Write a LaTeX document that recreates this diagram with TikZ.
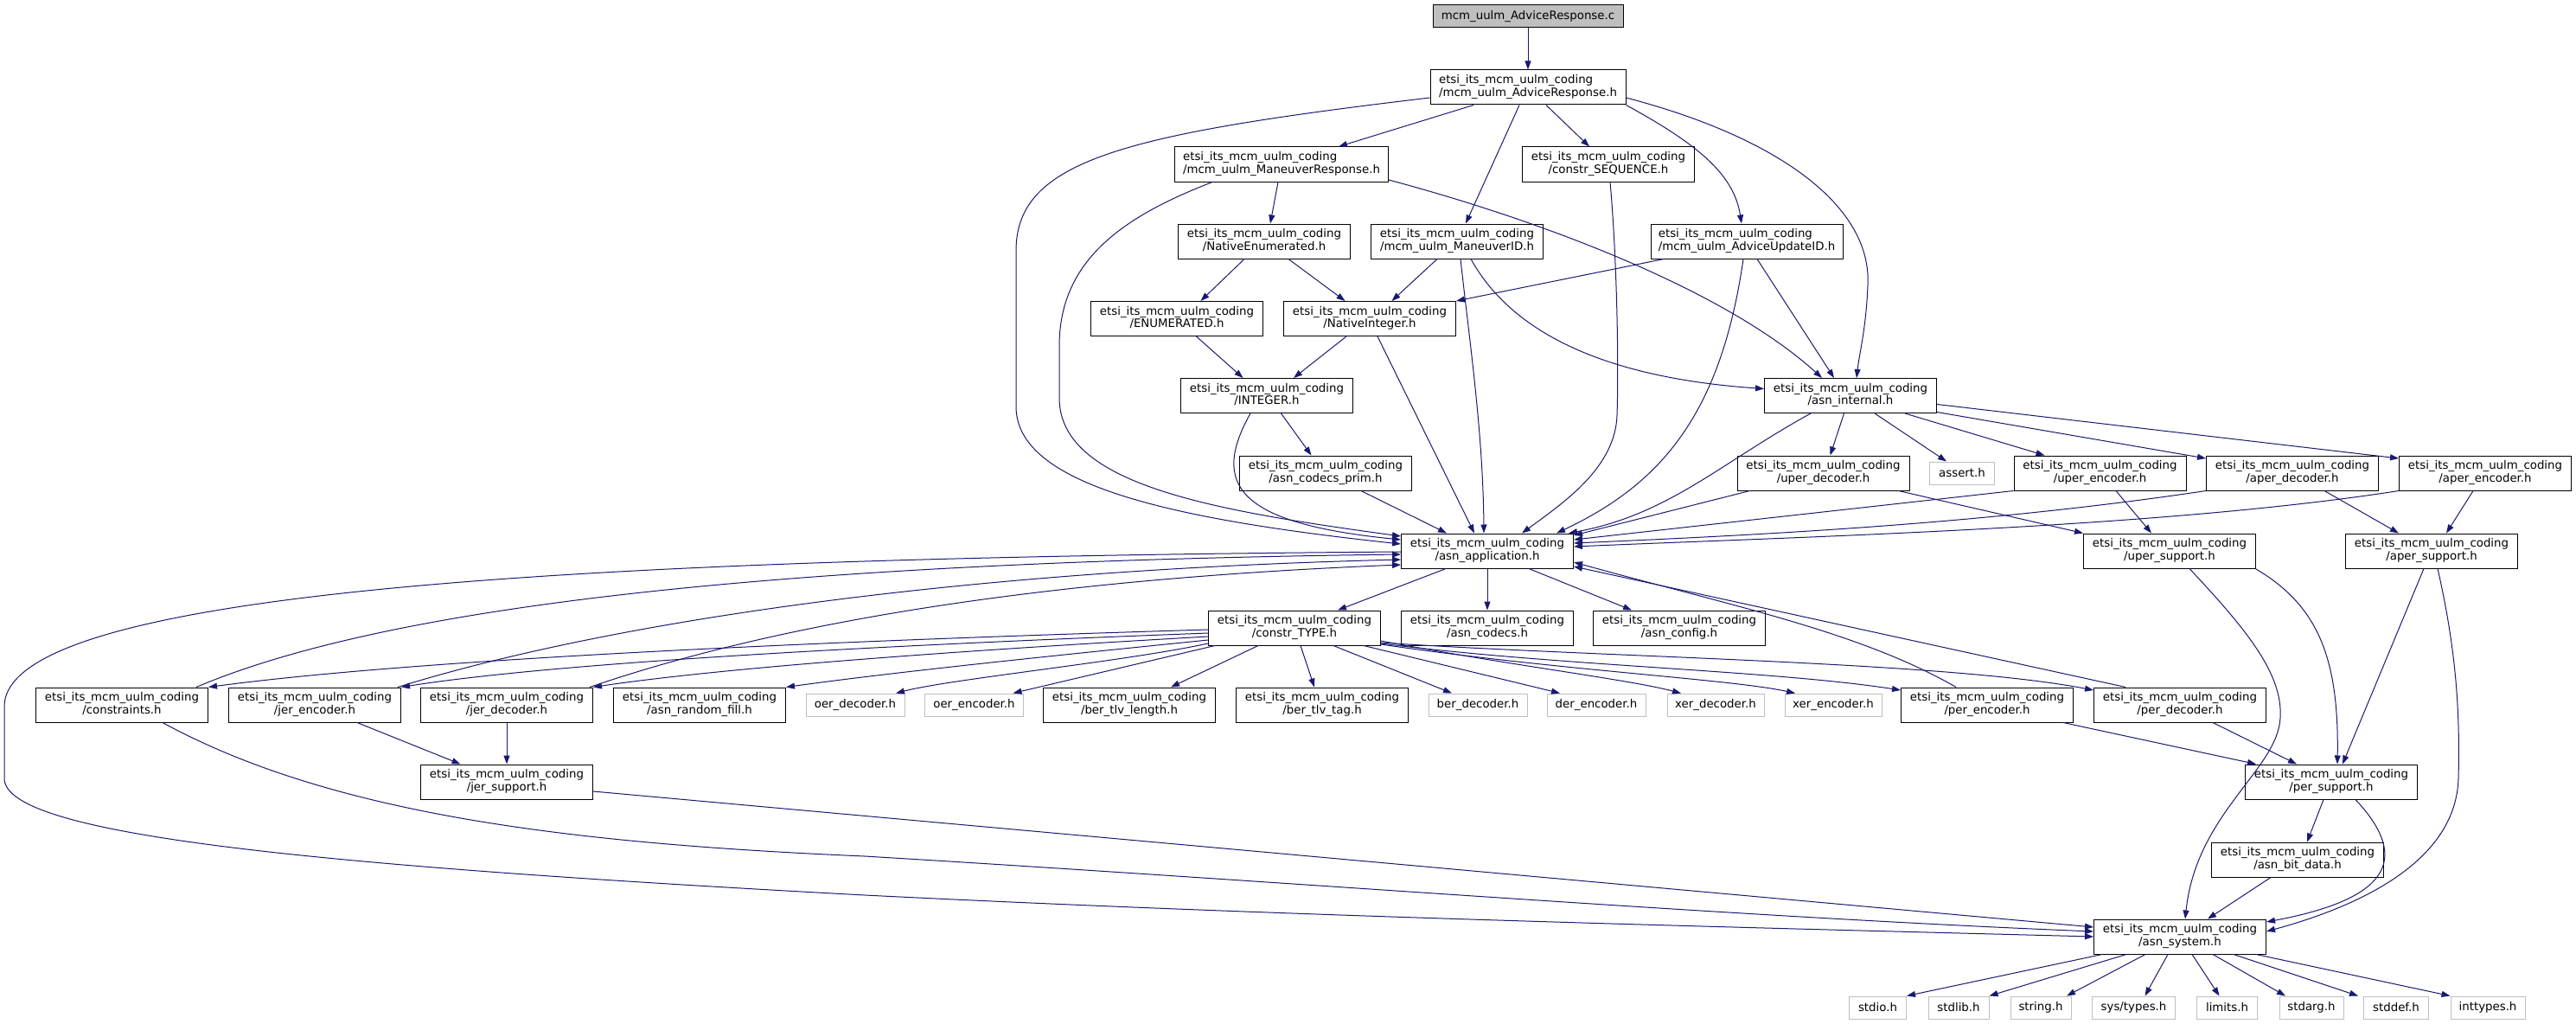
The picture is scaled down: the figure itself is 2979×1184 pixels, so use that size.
\documentclass[tikz,border=0pt]{standalone}
\usepackage{fontspec}
\setmainfont{DejaVu Sans}
\usetikzlibrary{arrows.meta,calc}
\definecolor{edgec}{HTML}{191970}
\definecolor{greyl}{HTML}{BFBFBF}
\newcommand\dlab[1]{\begin{tabular}{@{}c@{}}\multicolumn{1}{@{}l@{}}{etsi\_its\_mcm\_uulm\_coding}\\#1\end{tabular}}
\tikzset{
  hbox/.style={draw=black, fill=white, line width=0.75pt, inner sep=0pt, minimum height=30pt, font=\fontsize{10}{10.5}\selectfont},
  sbox/.style={draw=greyl, fill=white, line width=0.75pt, inner sep=0pt, minimum height=19.5pt, font=\fontsize{10}{10.5}\selectfont},
  topbox/.style={hbox, fill=greyl, minimum height=19.5pt},
  bw/.style={minimum width=#1*0.75pt},
  dep/.style={draw=edgec, line width=0.75pt, -{Triangle[length=7.5pt,width=5.25pt]}},
}
\begin{document}
\begin{tikzpicture}[x=0.75pt,y=-0.75pt]
\useasboundingbox (0,0) rectangle (2979,1184);
% nodes
\node[topbox,bw=220] (src) at (1767,19) {mcm\_uulm\_AdviceResponse.c};
\node[hbox,bw=226] (adv) at (1767,101) {\dlab{/mcm\_uulm\_AdviceResponse.h}};
\node[hbox,bw=247] (mresp) at (1482,190) {\dlab{/mcm\_uulm\_ManeuverResponse.h}};
\node[hbox,bw=199] (cseq) at (1860,190) {\dlab{/constr\_SEQUENCE.h}};
\node[hbox,bw=199] (nenum) at (1462,279) {\dlab{/NativeEnumerated.h}};
\node[hbox,bw=199] (mid) at (1685,279) {\dlab{/mcm\_uulm\_ManeuverID.h}};
\node[hbox,bw=222] (aupd) at (2020,279) {\dlab{/mcm\_uulm\_AdviceUpdateID.h}};
\node[hbox,bw=199] (enumh) at (1361,368.5) {\dlab{/ENUMERATED.h}};
\node[hbox,bw=199] (nint) at (1584,368.5) {\dlab{/NativeInteger.h}};
\node[hbox,bw=199] (integer) at (1465,457.5) {\dlab{/INTEGER.h}};
\node[hbox,bw=199] (asnint) at (2140,457.5) {\dlab{/asn\_internal.h}};
\node[hbox,bw=199] (prim) at (1533,547) {\dlab{/asn\_codecs\_prim.h}};
\node[hbox,bw=199] (updec) at (2108.5,547) {\dlab{/uper\_decoder.h}};
\node[sbox,bw=75] (assert) at (2269,547) {assert.h};
\node[hbox,bw=199] (upenc) at (2428.5,547) {\dlab{/uper\_encoder.h}};
\node[hbox,bw=199] (apdec) at (2651,547) {\dlab{/aper\_decoder.h}};
\node[hbox,bw=199] (apenc) at (2874,547) {\dlab{/aper\_encoder.h}};
\node[hbox,bw=199] (app) at (1720,637) {\dlab{/asn\_application.h}};
\node[hbox,bw=199] (upsup) at (2509,637) {\dlab{/uper\_support.h}};
\node[hbox,bw=199] (apsup) at (2812,637) {\dlab{/aper\_support.h}};
\node[hbox,bw=199] (ctype) at (1497,726) {\dlab{/constr\_TYPE.h}};
\node[hbox,bw=199] (codecs) at (1720,726) {\dlab{/asn\_codecs.h}};
\node[hbox,bw=199] (config) at (1942,726) {\dlab{/asn\_config.h}};
\node[hbox,bw=199] (constraints) at (141,815) {\dlab{/constraints.h}};
\node[hbox,bw=199] (jerenc) at (364,815) {\dlab{/jer\_encoder.h}};
\node[hbox,bw=199] (jerdec) at (586,815) {\dlab{/jer\_decoder.h}};
\node[hbox,bw=199] (rfill) at (809,815) {\dlab{/asn\_random\_fill.h}};
\node[sbox,bw=114] (oerdec) at (989,815) {oer\_decoder.h};
\node[sbox,bw=114] (oerenc) at (1126.5,815) {oer\_encoder.h};
\node[hbox,bw=199] (bertl) at (1306,815) {\dlab{/ber\_tlv\_length.h}};
\node[hbox,bw=199] (bertag) at (1529,815) {\dlab{/ber\_tlv\_tag.h}};
\node[sbox,bw=114] (berdec) at (1709,815) {ber\_decoder.h};
\node[sbox,bw=114] (derenc) at (1846,815) {der\_encoder.h};
\node[sbox,bw=112] (xerdec) at (1984,815) {xer\_decoder.h};
\node[sbox,bw=112] (xerenc) at (2120,815) {xer\_encoder.h};
\node[hbox,bw=199] (perenc) at (2298,815) {\dlab{/per\_encoder.h}};
\node[hbox,bw=199] (perdec) at (2521,815) {\dlab{/per\_decoder.h}};
\node[hbox,bw=199] (jersup) at (586,904) {\dlab{/jer\_support.h}};
\node[hbox,bw=199] (persup) at (2696,904) {\dlab{/per\_support.h}};
\node[hbox,bw=199] (bitdata) at (2657,994) {\dlab{/asn\_bit\_data.h}};
\node[hbox,bw=199] (sys) at (2521,1083) {\dlab{/asn\_system.h}};
\node[sbox,bw=66] (stdio) at (2171.5,1165) {stdio.h};
\node[sbox,bw=70] (stdlib) at (2265,1165) {stdlib.h};
\node[sbox,bw=70] (string) at (2360,1165) {string.h};
\node[sbox,bw=96] (systypes) at (2467.5,1165) {sys/types.h};
\node[sbox,bw=70] (limits) at (2575.5,1165) {limits.h};
\node[sbox,bw=74] (stdarg) at (2673,1165) {stdarg.h};
\node[sbox,bw=75] (stddef) at (2771,1165) {stddef.h};
\node[sbox,bw=86] (inttypes) at (2877,1165) {inttypes.h};
% edges
\draw[dep] (src.south) -- (adv.north);
\draw[dep] ($(adv.west)+(0,12)$) .. controls (1300,155) and (1175,185) .. (1175,290) -- (1175,470) .. controls (1175,560) and (1350,600) .. ($(app.west)+(0,-8)$);
\draw[dep] ($(adv.south)+(-63,0)$) -- ($(mresp.north)+(66,0)$);
\draw[dep] ($(adv.south)+(-10,0)$) -- ($(mid.north)+(10,0)$);
\draw[dep] ($(adv.south)+(21,0)$) -- ($(cseq.north)+(-22,0)$);
\draw[dep] (adv.south east) .. controls (1960,165) and (2005,200) .. ($(aupd.north)+(-6,0)$);
\draw[dep] ($(adv.east)+(0,12)$) .. controls (2060,160) and (2165,240) .. (2160,330) .. controls (2158,380) and (2150,410) .. ($(asnint.north)+(7,0)$);
\draw[dep] ($(mresp.south)+(-4,0)$) -- ($(nenum.north)+(7,0)$);
\draw[dep] ($(mresp.south)+(-80,0)$) .. controls (1300,250) and (1225,300) .. (1225,400) -- (1225,460) .. controls (1225,560) and (1400,590) .. ($(app.west)+(0,-17)$);
\draw[dep] ($(mresp.east)+(0,18)$) .. controls (1800,260) and (2000,340) .. ($(asnint.north)+(-33,0)$);
\draw[dep] ($(cseq.south)+(2,0)$) .. controls (1870,300) and (1872,420) .. (1870,480) .. controls (1868,540) and (1810,580) .. ($(app.north)+(40,0)$);
\draw[dep] ($(nenum.south)+(-23,0)$) -- ($(enumh.north)+(27.5,0)$);
\draw[dep] ($(nenum.south)+(28,0)$) -- ($(nint.north)+(-28.5,0)$);
\draw[dep] ($(mid.south)+(-23,0)$) -- ($(nint.north)+(25.5,0)$);
\draw[dep] ($(mid.south)+(4,0)$) .. controls (1700,400) and (1715,500) .. ($(app.north)+(-4,0)$);
\draw[dep] ($(mid.south)+(16,0)$) .. controls (1740,370) and (1830,435) .. ($(asnint.west)+(0,-8)$);
\draw[dep] ($(aupd.south)+(-96,0)$) -- (nint.north east);
\draw[dep] ($(aupd.south)+(-4,0)$) .. controls (1990,480) and (1920,560) .. ($(app.north)+(80,0)$);
\draw[dep] ($(aupd.south)+(12,0)$) -- ($(asnint.north)+(-19,0)$);
\draw[dep] ($(enumh.south)+(22.5,0)$) -- ($(integer.north)+(-27.5,0)$);
\draw[dep] ($(nint.south)+(-27,0)$) -- ($(integer.north)+(31,0)$);
\draw[dep] ($(nint.south)+(9,0)$) -- ($(app.north)+(-15,0)$);
\draw[dep] ($(integer.south)+(-19,0)$) .. controls (1400,560) and (1430,605) .. ($(app.west)+(0,-13)$);
\draw[dep] ($(integer.south)+(16.5,0)$) -- ($(prim.north)+(-16.5,0)$);
\draw[dep] ($(prim.south)+(41,0)$) -- ($(app.north)+(-47,0)$);
\draw[dep] ($(asnint.south)+(-46,0)$) .. controls (1990,535) and (1930,595) .. ($(app.north east)+(-6,0)$);
\draw[dep] ($(asnint.south)+(-7.5,0)$) -- ($(updec.north)+(8,0)$);
\draw[dep] ($(asnint.south)+(28,0)$) -- ($(assert.north)+(-18,0)$);
\draw[dep] ($(asnint.south)+(63,0)$) -- ($(upenc.north)+(-64,0)$);
\draw[dep] ($(asnint.east)+(0,19)$) -- ($(apdec.west)+(0,-17)$);
\draw[dep] ($(asnint.east)+(0,10)$) -- ($(apenc.west)+(0,-17)$);
\draw[dep] ($(updec.south)+(-85,0)$) -- ($(app.east)+(0,-18)$);
\draw[dep] ($(updec.south)+(87,0)$) -- (upsup.north west);
\draw[dep] (upenc.south west) -- ($(app.east)+(0,-13)$);
\draw[dep] ($(upenc.south)+(18.5,0)$) -- ($(upsup.north)+(-21,0)$);
\draw[dep] (apdec.south west) .. controls (2300,605) and (2050,618) .. ($(app.east)+(0,-9)$);
\draw[dep] ($(apdec.south)+(37,0)$) -- ($(apsup.north)+(-38,0)$);
\draw[dep] (apenc.south west) .. controls (2500,610) and (2100,620) .. ($(app.east)+(0,-5)$);
\draw[dep] ($(apenc.south)+(-14,0)$) -- ($(apsup.north)+(17,0)$);
\draw[dep] ($(upsup.south)+(23,0)$) .. controls (2600,730) and (2640,780) .. (2637,830) .. controls (2634,890) and (2540,940) .. ($(sys.north)+(6,0)$);
\draw[dep] ($(upsup.east)+(0,21)$) .. controls (2680,700) and (2705,760) .. ($(persup.north)+(7,0)$);
\draw[dep] ($(apsup.south)+(-9,0)$) -- ($(persup.north)+(13,0)$);
\draw[dep] ($(apsup.south)+(7,0)$) .. controls (2840,750) and (2845,820) .. (2843,900) .. controls (2840,1000) and (2720,1050) .. ($(sys.east)+(0,-6)$);
\draw[dep] ($(app.west)+(0,1)$) .. controls (700,645) and (5,680) .. (5,817) -- (5,900) .. controls (5,965) and (350,1000) .. (1000,1035) .. controls (1500,1060) and (2000,1072) .. (sys.west);
\draw[dep] ($(app.south)+(-48,0)$) -- ($(ctype.north)+(50,0)$);
\draw[dep] (app.south) -- (codecs.north);
\draw[dep] ($(app.south)+(48,0)$) -- ($(config.north)+(-55,0)$);
\draw[dep] ($(ctype.west)+(0,2)$) .. controls (1000,740) and (500,760) .. (constraints.north east);
\draw[dep] ($(ctype.west)+(0,6)$) .. controls (1050,745) and (650,765) .. (jerenc.north east);
\draw[dep] ($(ctype.west)+(0,10)$) .. controls (1150,750) and (850,770) .. (jerdec.north east);
\draw[dep] ($(ctype.west)+(0,14)$) .. controls (1250,755) and (1050,775) .. (rfill.north east);
\draw[dep] ($(ctype.west)+(0,18)$) .. controls (1300,765) and (1100,785) .. ($(oerdec.north)+(47,0)$);
\draw[dep] ($(ctype.south west)+(8,0)$) -- ($(oerenc.north)+(45,0)$);
\draw[dep] ($(ctype.south)+(-42,0)$) -- ($(bertl.north)+(48,0)$);
\draw[dep] ($(ctype.south)+(7,0)$) -- ($(bertag.north)+(-9,0)$);
\draw[dep] ($(ctype.south)+(45,0)$) -- ($(berdec.north)+(-30,0)$);
\draw[dep] ($(ctype.south)+(80,0)$) -- ($(derenc.north)+(-42,0)$);
\draw[dep] ($(ctype.east)+(0,15)$) .. controls (1750,770) and (1880,785) .. ($(xerdec.north)+(-40,0)$);
\draw[dep] ($(ctype.east)+(0,19)$) .. controls (1800,775) and (2000,785) .. ($(xerenc.north)+(-44,0)$);
\draw[dep] ($(ctype.east)+(0,18)$) .. controls (1800,770) and (2050,775) .. ($(perenc.west)+(0,-17)$);
\draw[dep] ($(ctype.east)+(0,17)$) .. controls (1850,760) and (2250,765) .. ($(perdec.west)+(0,-17)$);
\draw[dep] ($(constraints.north east)+(-14,0)$) .. controls (450,700) and (900,650) .. ($(app.west)+(0,4)$);
\draw[dep] ($(jerenc.north east)+(-4,0)$) .. controls (700,720) and (1100,660) .. ($(app.west)+(0,10)$);
\draw[dep] ($(jerdec.north east)+(-4,0)$) .. controls (900,720) and (1200,670) .. ($(app.west)+(0,16)$);
\draw[dep] ($(perenc.north)+(-36,0)$) .. controls (2150,730) and (2000,700) .. ($(app.east)+(0,13)$);
\draw[dep] ($(perdec.north)+(-63,0)$) -- ($(app.east)+(0,18)$);
\draw[dep] ($(constraints.south)+(47,0)$) .. controls (380,940) and (650,975) .. (1000,990) .. controls (1500,1020) and (2000,1060) .. ($(sys.west)+(0,-6)$);
\draw[dep] ($(jerenc.south)+(49,0)$) -- ($(jersup.north)+(-53.5,0)$);
\draw[dep] (jerdec.south) -- (jersup.north);
\draw[dep] ($(jersup.east)+(0,11)$) -- ($(sys.west)+(0,-11)$);
\draw[dep] ($(perenc.south)+(88,0)$) -- ($(persup.north)+(-87,0)$);
\draw[dep] ($(perdec.south)+(38,0)$) -- ($(persup.north)+(-40,0)$);
\draw[dep] ($(persup.south)+(-9,0)$) -- ($(bitdata.north)+(11,0)$);
\draw[dep] ($(persup.south)+(28,0)$) .. controls (2790,995) and (2760,1040) .. ($(sys.east)+(0,-17)$);
\draw[dep] ($(bitdata.south)+(-31,0)$) -- ($(sys.north)+(32,0)$);
\draw[dep] ($(sys.south)+(-90,0)$) -- (stdio.north east);
\draw[dep] ($(sys.south)+(-62,0)$) -- (stdlib.north east);
\draw[dep] ($(sys.south)+(-40,0)$) -- ($(string.north)+(30,0)$);
\draw[dep] ($(sys.south)+(-14,0)$) -- ($(systypes.north)+(13,0)$);
\draw[dep] ($(sys.south)+(14,0)$) -- ($(limits.north)+(-9,0)$);
\draw[dep] ($(sys.south)+(38,0)$) -- ($(stdarg.north)+(-30,0)$);
\draw[dep] ($(sys.south)+(62,0)$) -- ($(stddef.north)+(-44,0)$);
\draw[dep] ($(sys.south)+(88,0)$) -- (inttypes.north west);
\end{tikzpicture}
\end{document}
